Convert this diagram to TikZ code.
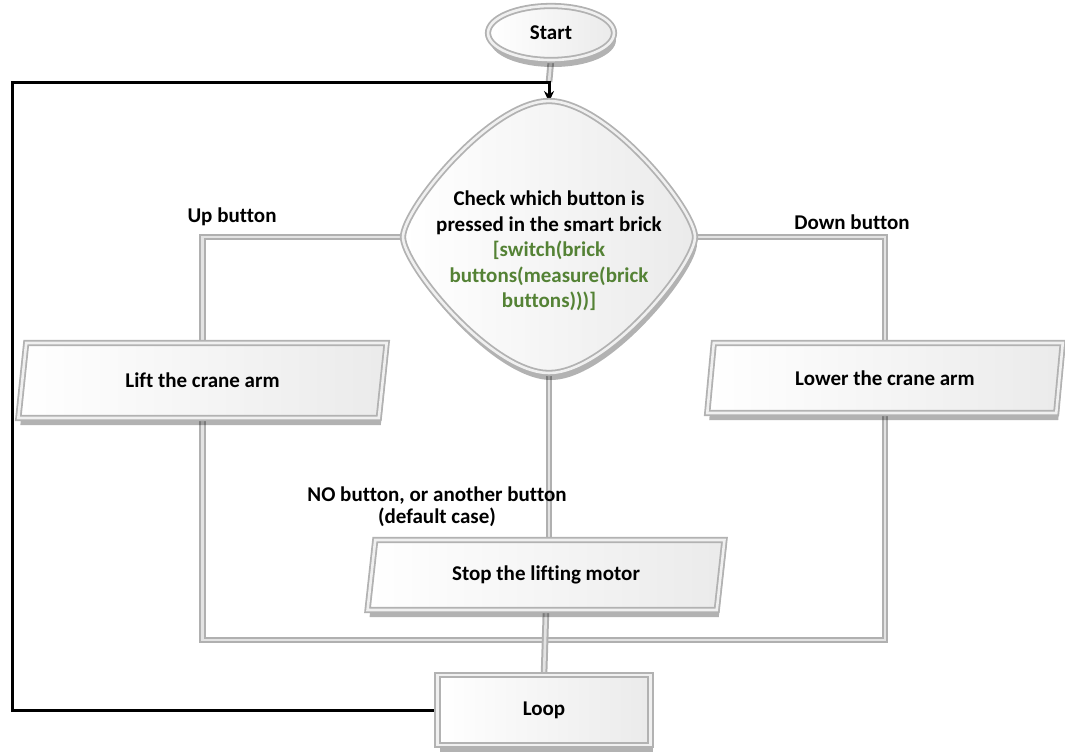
\documentclass[tikz,border=0pt]{standalone}
\usepackage{fontspec}
\setmainfont{Carlito}[Ligatures=NoCommon]
\usetikzlibrary{shapes.geometric,shadows,backgrounds,arrows.meta}
\definecolor{codegreen}{RGB}{84,130,53}
\tikzset{
 box/.style={draw=gray!60, double=gray!12, line width=1.8pt, double distance=2.6pt,
   left color=white, right color=gray!16,
   drop shadow={shadow xshift=2pt, shadow yshift=-7pt, opacity=0.3, fill=black},
   font=\fontsize{21}{24}\selectfont\bfseries, outer sep=0pt, inner sep=0pt},
 para/.style={box, trapezium, trapezium left angle=77, trapezium right angle=103,
   trapezium stretches=true, minimum height=72pt},
 pipe/.style={draw=gray!62, line width=2pt, double=gray!22, double distance=2.6pt},
 loopline/.style={draw=black, line width=3pt, -{Stealth[length=11pt,width=10pt]}},
 lbl/.style={font=\fontsize{21}{22}\selectfont\bfseries, align=center, inner sep=0pt}
}
\begin{document}
\begin{tikzpicture}[x=1pt,y=-1pt]
\useasboundingbox (0,0) rectangle (1065,753);
% nodes
\node[box, ellipse, minimum width=126pt, minimum height=54pt] (s) at (551,33) {Start};
\node[diamond, minimum width=292pt, minimum height=272pt, inner sep=0pt, outer sep=0pt] (d) at (549,237) {};
\path[box] (d.north) .. controls +(58,0) and +(0,-28) .. (d.east)
  .. controls +(0,28) and +(58,0) .. (d.south)
  .. controls +(-58,0) and +(0,28) .. (d.west)
  .. controls +(0,-28) and +(-58,0) .. (d.north) -- cycle;
\node[lbl, font=\fontsize{21}{25.5}\selectfont\bfseries] (dt) at (549,251) {Check which button is\\pressed in the smart brick\\\textcolor{codegreen}{[switch(brick}\\\textcolor{codegreen}{buttons(measure(brick}\\\textcolor{codegreen}{buttons)))]}};
\node[para, minimum width=369pt, minimum height=75pt] (lift) at (202.5,380.5) {Lift the crane arm};
\node[para, minimum width=356pt, minimum height=70pt] (lower) at (885,378) {Lower the crane arm};
\node[para, minimum width=358pt, minimum height=70pt] (stop) at (546,575) {Stop the lifting motor};
\node[box, rectangle, minimum width=213pt, minimum height=70pt] (loop) at (544,710) {Loop};
% labels
\node[lbl] (up) at (232,217) {Up button};
\node[lbl] (down) at (852,222) {Down button};
\node[lbl] (no) at (437,507) {NO button, or another button\\(default case)};
% coordinates
\coordinate (j) at (549,82);
\coordinate (lc) at (12,82);
\coordinate (rail) at (546,640);
% connectors
\begin{scope}[on background layer]
\draw[pipe] (s.south) -- (j);
\draw[pipe] (d.west) -| (lift.north);
\draw[pipe] (d.east) -| (lower.north);
\draw[pipe] (d.south) -- (d.south |- stop.north);
\draw[pipe] (lift.south) |- (rail) -| (lower.south);
\draw[pipe] (stop.south) -- (loop.north);
\draw[loopline] (loop.west) -| (lc) -- (j) -- ([yshift=-1pt]d.north);
\end{scope}
\end{tikzpicture}
\end{document}
